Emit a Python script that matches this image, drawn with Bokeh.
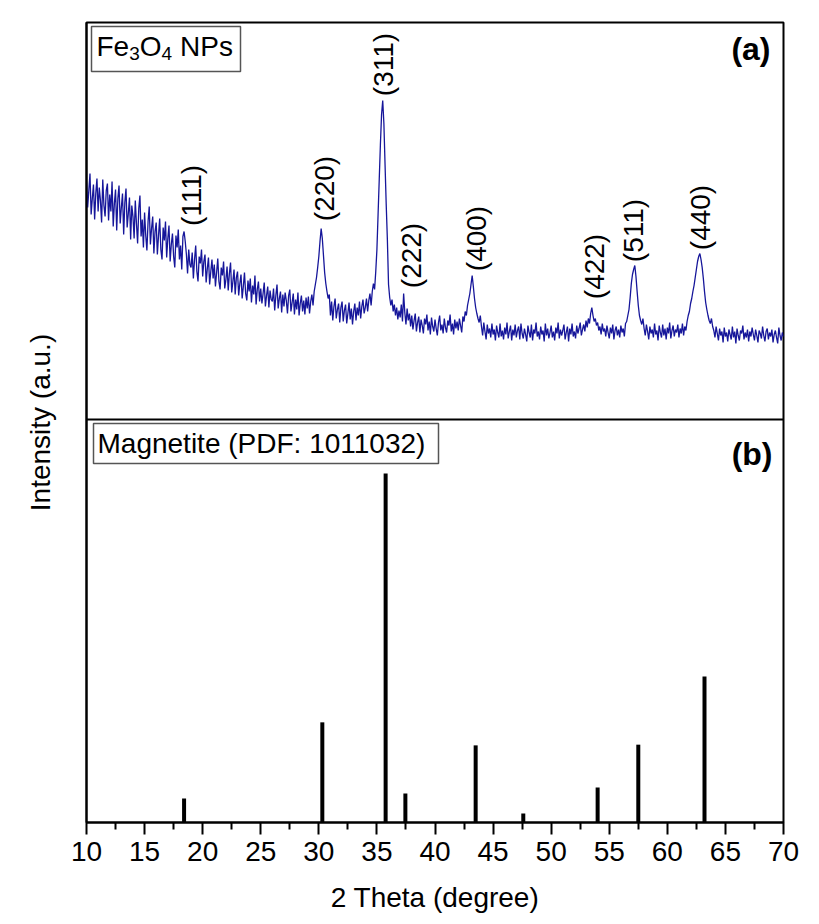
import numpy as np
from bokeh.plotting import figure
from bokeh.models import Span, FixedTicker, Range1d
from bokeh.core.properties import value
from bokeh.embed import file_html
from bokeh.resources import INLINE

# ---------------- data ----------------
# (a) measured XRD pattern of Fe3O4 NPs, scanned 10-70 deg in 0.1 deg steps
scan_start, scan_stop, scan_step = 10.0, 70.0, 0.1
# intensity (a.u.), one row per degree (x.0 ... x.9)
intensity = [
    238, 212, 229, 246, 205, 221, 235, 200, 226, 241,   # 10
    208, 232, 219, 197, 240, 214, 203, 229, 236, 199,   # 11
    225, 208, 238, 193, 216, 230, 189, 221, 234, 196,   # 12
    212, 226, 185, 217, 231, 192, 206, 222, 180, 214,   # 13
    203, 181, 219, 196, 176, 211, 224, 183, 200, 172,   # 14
    207, 184, 169, 198, 213, 175, 191, 203, 166, 188,   # 15
    197, 165, 184, 201, 170, 160, 192, 179, 198, 162,   # 16
    181, 194, 158, 175, 186, 163, 152, 184, 172, 190,   # 17
    160, 174, 150, 183, 188, 178, 165, 146, 170, 155,   # 18
    152, 167, 141, 160, 174, 148, 138, 163, 156, 170,   # 19
    143, 158, 165, 137, 151, 162, 135, 148, 160, 141,   # 20
    155, 133, 147, 161, 138, 130, 152, 144, 158, 131,   # 21
    140, 153, 129, 146, 157, 127, 138, 150, 125, 142,   # 22
    148, 124, 136, 145, 121, 133, 147, 126, 119, 139,   # 23
    128, 141, 117, 134, 125, 144, 115, 130, 138, 118,   # 24
    131, 116, 126, 137, 113, 124, 133, 112, 129, 120,   # 25
    118, 131, 109, 124, 135, 111, 121, 128, 107, 125,   # 26
    113, 127, 119, 106, 124, 130, 108, 117, 126, 105,   # 27
    120, 110, 127, 104, 116, 124, 108, 119, 105, 122,   # 28
    111, 123, 106, 118, 125, 114, 128, 135, 142, 152,   # 29
    163, 178, 191, 181, 164, 147, 136, 128, 121, 125,   # 30
    104, 118, 99, 113, 121, 101, 110, 116, 97, 112,     # 31
    118, 98, 109, 115, 96, 106, 117, 100, 111, 95,      # 32
    108, 116, 99, 112, 104, 118, 101, 113, 120, 106,    # 33
    112, 121, 108, 119, 126, 114, 128, 136, 130, 148,   # 34
    170, 205, 240, 275, 305, 319, 296, 255, 215, 180,   # 35
    135, 122, 114, 120, 108, 115, 104, 112, 100, 109,   # 36
    102, 115, 98, 126, 107, 95, 111, 99, 106, 93,       # 37
    104, 90, 99, 106, 88, 97, 103, 87, 100, 94,         # 38
    86, 101, 95, 105, 89, 98, 85, 102, 93, 88,          # 39
    100, 91, 84, 97, 104, 89, 95, 86, 101, 92,          # 40
    87, 99, 94, 105, 88, 96, 85, 100, 91, 98,           # 41
    89, 101, 94, 87, 103, 98, 108, 104, 114, 120,       # 42
    126, 135, 144, 133, 121, 112, 106, 101, 97, 104,    # 43
    93, 84, 97, 88, 80, 95, 86, 91, 82, 96,             # 44
    85, 90, 79, 94, 87, 82, 96, 83, 89, 80,             # 45
    92, 85, 97, 81, 88, 94, 79, 90, 84, 95,             # 46
    82, 89, 93, 80, 96, 86, 81, 91, 85, 78,             # 47
    94, 87, 82, 95, 79, 90, 86, 97, 83, 88,             # 48
    80, 93, 85, 89, 78, 96, 84, 91, 81, 87,             # 49
    94, 82, 88, 79, 92, 86, 97, 81, 90, 84,             # 50
    89, 95, 80, 87, 93, 78, 91, 85, 96, 83,             # 51
    88, 81, 94, 86, 91, 97, 84, 90, 95, 88,             # 52
    99, 92, 101, 96, 106, 112, 104, 98, 101, 94,        # 53
    97, 89, 93, 85, 96, 88, 91, 83, 94, 87,             # 54
    81, 92, 86, 95, 80, 89, 93, 84, 90, 82,             # 55
    94, 87, 91, 83, 96, 98, 104, 110, 122, 136,         # 56
    145, 150, 154, 143, 128, 114, 104, 99, 95, 101,     # 57
    91, 84, 95, 88, 80, 93, 86, 90, 82, 96,             # 58
    85, 89, 79, 94, 87, 82, 95, 84, 91, 80,             # 59
    92, 86, 97, 81, 89, 94, 83, 90, 87, 95,             # 60
    82, 91, 86, 96, 84, 93, 89, 98, 104, 108,           # 61
    116, 121, 128, 134, 142, 150, 158, 163, 166, 160,   # 62
    152, 141, 128, 117, 110, 104, 99, 96, 101, 93,      # 63
    89, 82, 93, 86, 79, 91, 84, 88, 77, 92,             # 64
    83, 87, 78, 90, 85, 80, 93, 82, 88, 76,             # 65
    91, 84, 79, 89, 86, 94, 80, 87, 82, 90,             # 66
    78, 88, 83, 92, 85, 79, 90, 84, 77, 89,             # 67
    86, 81, 93, 84, 78, 88, 91, 80, 87, 83,             # 68
    90, 77, 85, 89, 82, 76, 92, 84, 79, 87,             # 69
    83,                                                 # 70
]
n_scan = int(round((scan_stop - scan_start) / scan_step)) + 1
two_theta = [round(scan_start + i * scan_step, 1) for i in range(n_scan)]

# peak indices (labels above the pattern)
hkl_labels = ["(111)", "(220)", "(311)", "(222)", "(400)", "(422)", "(511)", "(440)"]
hkl_two_theta = [19.07, 30.53, 35.6, 37.95, 43.6, 53.7, 57.06, 62.83]

# (b) reference pattern: Magnetite (PDF: 1011032), relative intensity (%)
pdf_two_theta = [18.4, 30.3, 35.75, 37.45, 43.5, 47.6, 54.0, 57.5, 63.2]
pdf_rel_int = [6.9, 28.7, 100.0, 8.3, 22.1, 2.6, 10.0, 22.3, 41.8]

x_ticks = [10, 15, 20, 25, 30, 35, 40, 45, 50, 55, 60, 65, 70]

# ---------------- layout ----------------
W, H = 819, 924
FL, FR, FT, FB = 86, 783, 22, 822        # frame edges in page pixels
X0, X1 = 10, 70
Y_TOP = FB - FT                           # plot units == pixels vertically
DIVIDER = FB - 419                        # panel split
PDF_SCALE = 3.49                          # pixels per % in panel (b)
FONT = value("Liberation Sans")
FS = "28px"


def px2x(px):
    return X0 + (px - FL) / (FR - FL) * (X1 - X0)


def py2y(py):
    return FB - py


p = figure(width=W, height=H, output_backend="svg", toolbar_location=None,
           x_range=Range1d(X0, X1), y_range=Range1d(0, Y_TOP),
           min_border_left=FL, min_border_right=W - FR,
           min_border_top=FT, min_border_bottom=H - FB)
p.background_fill_color = "white"
p.border_fill_color = "white"
p.outline_line_color = "black"
p.outline_line_width = 2
p.xgrid.visible = False
p.ygrid.visible = False

# x axis
xa = p.xaxis[0]
xa.ticker = FixedTicker(ticks=x_ticks, minor_ticks=[t + 2.5 for t in x_ticks[:-1]])
xa.axis_line_width = 2
xa.major_tick_line_width = 2
xa.minor_tick_line_width = 2
xa.major_tick_out = 12
xa.major_tick_in = 0
xa.minor_tick_out = 7
xa.minor_tick_in = 0
xa.major_label_text_font = "Liberation Sans"
xa.major_label_text_font_size = FS
xa.major_label_text_color = "black"
xa.major_label_standoff = 7
xa.axis_label = "2 Theta (degree)"
xa.axis_label_text_font = "Liberation Sans"
xa.axis_label_text_font_size = FS
xa.axis_label_text_font_style = "normal"
xa.axis_label_text_color = "black"
xa.axis_label_standoff = 18

# y axis (no ticks)
ya = p.yaxis[0]
ya.ticker = FixedTicker(ticks=[])
ya.axis_line_width = 2
ya.major_tick_out = 0
ya.major_tick_in = 0
ya.minor_tick_out = 0
ya.minor_tick_in = 0
ya.major_label_standoff = 0
ya.axis_label = "Intensity (a.u.)"
ya.axis_label_text_font = "Liberation Sans"
ya.axis_label_text_font_size = FS
ya.axis_label_text_font_style = "normal"
ya.axis_label_text_color = "black"
ya.axis_label_standoff = 31

# divider between panels
p.add_layout(Span(location=DIVIDER, dimension="width", line_color="black", line_width=2))

# (a) pattern, stacked above the divider
y_a = [DIVIDER + v for v in intensity]
p.line(two_theta, y_a, line_color="#16169a", line_width=1.3)

# hkl labels (rotated)
hkl_label_py = [195, 188, 64, 255, 238, 266, 230, 217]
p.text(x=hkl_two_theta, y=[py2y(v) for v in hkl_label_py], text=hkl_labels,
       angle=np.pi / 2, text_font=FONT, text_font_size=FS,
       text_align="center", text_baseline="middle", text_color="black")

# Fe3O4 NPs box
p.quad(left=px2x(91), right=px2x(240), bottom=py2y(71), top=py2y(26),
       fill_color="white", line_color="#555555", line_width=1.5)
p.text(x=[px2x(96), px2x(139.3), px2x(179.5)], y=[py2y(46)] * 3,
       text=["Fe", "O", "NPs"], text_font=FONT, text_font_size=FS,
       text_align="left", text_baseline="middle", text_color="black")
p.text(x=[px2x(128.7), px2x(161.1)], y=[py2y(53)] * 2,
       text=["3", "4"], text_font=FONT, text_font_size="19px",
       text_align="left", text_baseline="middle", text_color="black")

# (b) reference sticks
p.segment(x0=pdf_two_theta, y0=[0] * len(pdf_two_theta), x1=pdf_two_theta,
          y1=[v * PDF_SCALE for v in pdf_rel_int],
          line_color="black", line_width=4, line_cap="butt")

p.quad(left=px2x(93), right=px2x(438), bottom=py2y(463), top=py2y(423),
       fill_color="white", line_color="#555555", line_width=1.5)
p.text(x=[px2x(97)], y=[py2y(443)], text=["Magnetite (PDF: 1011032)"],
       text_font=FONT, text_font_size=FS, text_align="left",
       text_baseline="middle", text_color="black")

# panel tags
p.text(x=[px2x(770), px2x(772)], y=[py2y(48), py2y(453)], text=["(a)", "(b)"],
       text_font=FONT, text_font_size="32px", text_font_style="bold",
       text_align="right", text_baseline="middle", text_color="black")

open("out.html", "w").write(file_html(p, INLINE))
